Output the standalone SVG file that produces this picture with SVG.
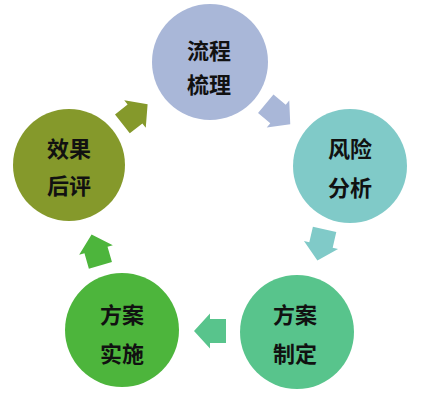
<svg xmlns="http://www.w3.org/2000/svg" width="428" height="400" viewBox="0 0 428 400">
<style>
.lbl{font-family:"Noto Sans CJK SC","Noto Sans",sans-serif;font-size:22px;font-weight:bold;fill:#111;text-anchor:middle;dominant-baseline:central}
</style>
<defs>
<polygon id="arr" points="-16,-12 0,-12 0,-17.5 16,0 0,17.5 0,12 -16,12"/>
</defs>
<rect width="428" height="400" fill="#fff"/>
<g id="connectors">
<use href="#arr" fill="#a9b7d8" transform="translate(278,114) rotate(40)"/>
<use href="#arr" fill="#80cac8" transform="translate(321,245) rotate(103)"/>
<use href="#arr" fill="#58c48c" transform="translate(210,331) rotate(180)"/>
<use href="#arr" fill="#4db53c" transform="translate(96,250) rotate(-106)"/>
<use href="#arr" fill="#85992b" transform="translate(135,114) rotate(-38)"/>
</g>
<g id="node-liucheng">
<circle cx="210" cy="62" r="58" fill="#a9b7d8"/>
<text class="lbl" x="209" y="49">流程</text>
<text class="lbl" x="209" y="83">梳理</text>
</g>
<g id="node-fengxian">
<circle cx="350" cy="166" r="57" fill="#80cac8"/>
<text class="lbl" x="350" y="147">风险</text>
<text class="lbl" x="350" y="186">分析</text>
</g>
<g id="node-zhiding">
<circle cx="297" cy="332" r="57" fill="#58c48c"/>
<text class="lbl" x="295" y="313">方案</text>
<text class="lbl" x="295" y="352">制定</text>
</g>
<g id="node-shishi">
<circle cx="122" cy="330" r="57" fill="#4db53c"/>
<text class="lbl" x="122" y="313">方案</text>
<text class="lbl" x="122" y="352">实施</text>
</g>
<g id="node-houping">
<circle cx="69" cy="165" r="56" fill="#85992b"/>
<text class="lbl" x="69" y="147">效果</text>
<text class="lbl" x="69" y="184">后评</text>
</g>
</svg>
